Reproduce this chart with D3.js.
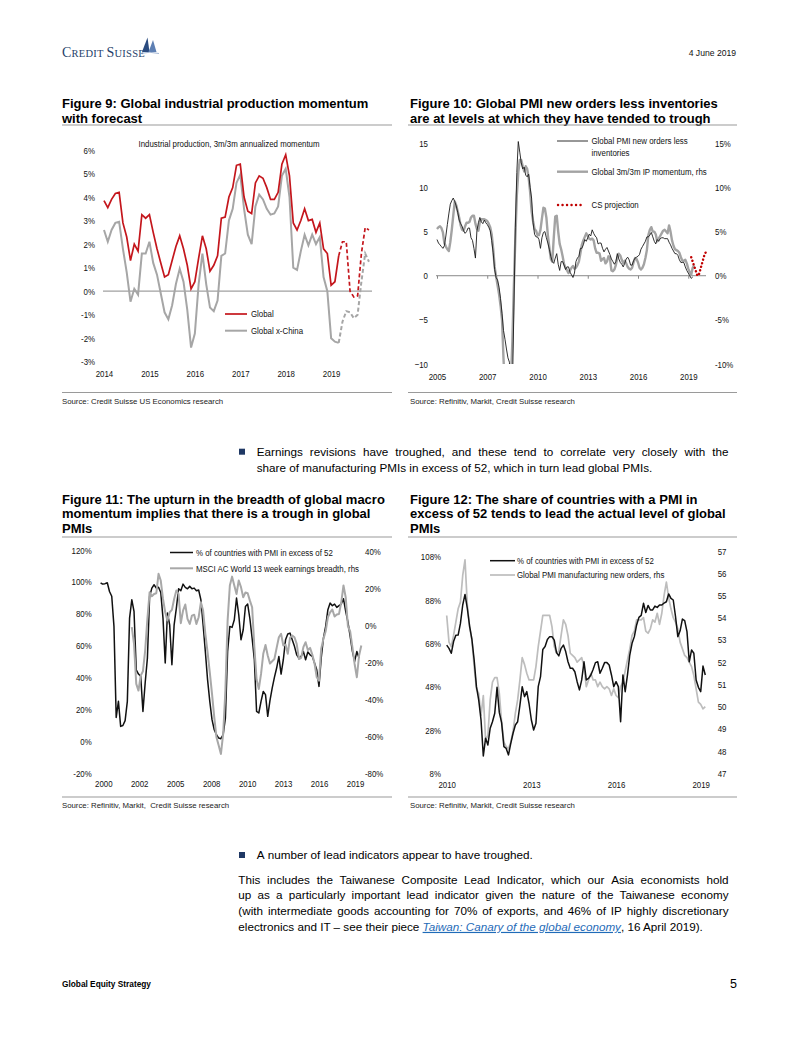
<!DOCTYPE html>
<html><head><meta charset="utf-8">
<script src="https://cdn.jsdelivr.net/npm/d3@7"></script>
<style>
html,body{margin:0;padding:0;background:#fff;}
svg{display:block;}
</style></head><body>
<svg id="page" width="802" height="1037"></svg>
<script>
// ================= DATA =================
// Figure 9: monthly from Jan 2014 (3m/3m annualized IP momentum, %)
const fig9Start = 2014;
const fig9GlobalActual = [3.85,3.55,3.9,4.15,4.2,2.9,2.3,1.3,2.0,1.7,3.25,3.1,3.25,2.5,1.8,1.2,0.6,0.7,1.3,1.9,2.35,1.8,1.1,0.1,0.4,1.4,2.35,1.8,0.85,1.1,1.5,3.1,3.15,4.0,4.4,5.35,5.4,4.0,3.4,3.3,4.6,4.9,4.8,4.4,3.9,3.9,4.2,5.4,5.8,4.9,2.9,2.6,3.0,3.5,3.0,3.05,2.5,2.9,1.8,1.6,0.25,0.4,1.5];
const fig9GlobalForecast = [1.5,2.1,2.1,0.0,-0.25,-0.2,1.6,2.7,2.6];          // from month 62
const fig9XChinaActual = [2.6,2.1,2.6,2.9,2.95,1.8,0.8,-0.45,0.1,-0.15,1.6,1.6,2.1,1.2,0.7,-0.1,-0.9,-1.2,-0.6,0.3,0.95,0.4,-0.8,-2.4,-1.8,0.3,1.6,0.3,-0.7,-0.85,-0.4,1.5,1.6,3.0,3.5,4.6,4.95,3.5,2.4,2.0,3.6,4.1,3.9,3.5,3.25,3.3,3.6,4.9,5.2,4.0,1.0,0.9,1.7,2.4,1.95,2.4,2.0,2.3,0.6,0.0,-2.0,-2.15,-2.2];
const fig9XChinaForecast = [-2.2,-1.3,-0.85,-0.9,-1.15,-1.0,0.4,1.6,1.25];   // from month 62
const fig9ForecastStartMonth = 62;
const fig9YTicks = [-3,-2,-1,0,1,2,3,4,5,6];
const fig9XTicks = [2014,2015,2016,2017,2018,2019];

// Figure 10: monthly from Jan 2005
const fig10Start = 2005;
const fig10Pmi = [4.1,3.7,3.5,3.3,3.1,3.4,4.5,5.8,7.0,8.1,
 8.5,8.8,8.4,7.9,7.2,6.3,5.9,5.6,5.1,4.8,
 5.0,5.4,5.4,4.3,4.0,3.1,2.0,5.1,6.0,6.6,
 6.1,5.9,6.3,6.0,5.8,5.5,5.1,4.0,2.6,0.7,
 -0.2,-0.5,-1.3,-2.6,-4.3,-6.2,-7.2,-8.3,-9.3,-9.8,
 -16,-13,-4,5.5,11.7,15.2,14.0,12.8,12.1,12.3,
 11.4,11.2,11.5,10.0,8.8,6.0,4.7,4.4,4.4,4.1,
 3.1,4.3,4.9,5.0,4.3,3.7,3.0,2.2,1.6,1.4,
 2.0,2.5,1.3,0.6,1.6,1.6,1.2,0.7,1.0,1.0,
 0.4,0.1,-0.2,0.3,1.6,2.0,2.2,3.1,3.1,3.5,
 4.1,3.9,4.3,4.7,4.5,5.2,4.8,4.5,4.3,3.6,
 3.7,3.7,3.1,2.7,3.0,3.2,2.8,2.4,1.9,1.6,
 1.3,1.6,2.5,1.9,1.5,1.3,1.0,1.4,1.9,2.1,
 1.8,1.2,1.2,1.7,2.0,2.1,2.2,2.4,3.0,3.3,
 3.6,3.9,4.4,4.4,4.6,4.9,4.4,3.9,3.6,4.1,
 3.9,4.2,4.3,4.3,4.2,4.2,4.2,3.8,3.5,3.1,
 2.8,2.5,2.5,2.3,1.8,1.5,1.5,1.5,1.0,0.6,
 0.3,0.0,-0.3,-0.15];
const fig10Ip = [5.3,5.5,5.6,5.4,4.9,3.7,3.3,3.0,2.8,3.8,
 5.2,6.8,8.4,8.0,7.3,6.6,5.7,5.2,5.1,5.6,
 6.0,6.0,6.1,6.6,6.8,6.8,5.9,5.3,5.1,6.1,
 6.4,6.4,6.4,6.3,6.2,5.9,5.5,4.7,3.1,1.0,
 -0.1,-1.1,-2.1,-3.4,-5.0,-9.4,-12.9,-16,-16,-15.3,
 -11.9,-7.4,-1.2,4.2,9.1,11.7,13.1,13.1,12.4,11.8,
 12.4,12.1,11.1,9.5,7.3,6.2,5.3,5.1,4.6,4.6,
 5.2,6.5,7.7,7.6,6.6,4.6,3.2,1.9,1.6,4.3,
 6.7,6.8,5.0,3.6,3.0,2.2,1.3,0.9,0.6,0.3,
 0.6,0.9,1.1,0.8,0.9,1.2,1.6,2.5,3.5,4.0,
 4.4,4.8,4.5,4.2,4.1,4.2,4.0,3.1,2.6,2.6,
 2.5,1.7,1.9,2.0,1.4,1.6,2.2,2.0,0.6,0.5,
 0.7,1.2,2.0,2.5,2.3,1.8,1.4,1.7,1.4,1.0,
 0.8,0.7,0.9,1.5,2.0,1.9,1.5,0.9,0.7,0.9,
 1.3,2.0,2.9,4.6,5.2,5.5,5.0,5.0,4.7,3.9,
 4.2,4.5,4.8,5.1,5.2,5.0,4.8,5.7,5.0,4.0,
 3.4,3.0,2.9,2.8,2.6,2.1,1.7,1.7,1.8,1.4,
 0.8,0.4,0.1,0.9,1.2];
const fig10ProjStartMonth = 172;
const fig10Projection = [2.1,1.6,1.1,0.6,0.1,0.0,0.6,1.2,1.8,2.4,2.7];
const fig10LeftTicks = [-10,-5,0,5,10,15];
const fig10XTicks = [2005, 2007.833, 2010.667, 2013.5, 2016.333, 2019.167];
const fig10XLabels = ["2005","2007","2010","2013","2016","2019"];

// Figure 11: every 2 months from Jan 2000
const fig11Start = 2000;
const fig11Breadth = [99.3,98.6,98.9,99.5,94.0,91.0,72.1,15,25.1,9.4,
 10.0,13.0,25.1,77.3,88.8,81.5,44.9,42.2,40.8,18.8,
 36.6,52.2,90.9,96.1,98.2,96.1,96.6,93.4,77.3,49.1,
 80.5,73.1,48.1,73.1,83.6,95.7,94.5,98.6,96.6,95.7,
 97.2,95.7,96.1,94.5,94.9,88.8,73.1,56.4,38.7,25.1,
 13.6,7.3,4.2,2.1,1.7,4.2,14.6,56.4,72.1,71.5,
 76.3,89.9,79.4,63.7,70.0,84.6,86.1,76.9,64.8,51.2,
 18.8,17.8,25.1,31.3,29.3,15.7,25.5,33.4,40.1,46.0,
 53.3,42.2,51.2,63.7,67.3,67.9,63.7,59.6,54.3,52.2,
 53.3,56.4,51.2,56.0,54.3,53.3,49.1,44.9,34.5,52.2,
 64.8,72.1,82.6,86.7,85.1,86.1,84.0,85.1,86.1,89.4,
 81.5,74.8,65.8,56.4,50.2,56.4,52.2];
const fig11EarningsStartStep = 14;
const fig11Earnings = [-0.9,-9.9,-31.6,-35.2,-27.1,-24.7,-13.5,3.6,18.1,15.9,
 17.1,17.5,28,24.4,14.4,7.2,2.7,7.2,8.5,14.4,
 19.0,17.1,1.3,8.1,11.4,3.6,0.9,5.4,5.9,0.9,
 4.5,12.6,8.1,-4.5,-14.4,-25.3,-37.0,-49.6,-60.5,-65.0,
 -69.5,-58.7,-35.2,2.7,21.7,26.5,21.7,17.1,24.4,20.8,
 15.3,17.9,17.5,13.5,9.9,-11.7,-29.2,-34.3,-26.2,-15.3,
 -10.5,-16.2,-20.6,-19.3,-18.1,-12.1,-6.3,-4.5,-10.8,-10.3,
 -15.3,-6.7,-5.4,-6.3,-9.9,-18.1,-17.5,-11.7,-9.0,-13.2,
 -12.1,-15.7,-20.4,-28.0,-29.8,-12.6,-7.2,-3.1,4.5,7.2,
 8.7,4.9,6.0,6.3,12.6,21.7,15.3,-0.5,-3.1,-11.7,
 -20.8,-28.0,-16.2,-10.8];
const fig11LeftTicks = [-20,0,20,40,60,80,100,120];
const fig11RightTicks = [-80,-60,-40,-20,0,20,40];
const fig11XTicks = [2000.2,2002.89,2005.58,2008.27,2010.96,2013.65,2016.34,2019.03];
const fig11XLabels = ["2000","2002","2005","2008","2010","2013","2016","2019"];

// Figure 12: monthly from Jan 2010
const fig12Start = 2010;
const fig12Breadth = [67.2,65.7,63.4,68.8,71.7,71.8,77.2,85.7,90.6,84.2,
 76.0,70.0,60.3,48.0,41.8,32.6,16.0,24.2,21.1,28.8,
 31.8,35.7,47.7,36.0,31.4,20.3,19.5,16.5,21.8,26.5,
 30.3,31.8,39.5,48.0,43.4,45.7,40.0,32.6,28.0,31.1,
 48.0,52.6,65.2,66.5,69.8,71.1,71.1,69.5,63.7,62.2,
 65.7,67.2,64.2,59.5,56.5,56.5,54.9,50.3,46.5,51.1,
 59.5,51.1,51.8,53.4,56.0,59.1,59.5,54.2,56.5,59.1,
 59.1,58.0,53.4,48.0,50.3,48.0,31.8,53.4,45.7,53.4,
 62.6,68.0,71.1,76.5,80.0,80.9,86.5,82.2,85.5,83.4,
 83.4,85.2,84.6,85.7,85.7,86.6,87.2,90.8,88.8,88.0,
 80.3,71.1,73.8,79.2,78.5,73.4,59.5,64.9,63.4,51.1,
 47.7,45.7,57.5,53.4];
const fig12NewOrders = [54.1,52.9,52.7,53.2,53.8,54.4,54.7,55.9,56.6,54.6,
 53.6,53.0,51.8,50.8,50.6,49.6,50.5,48.5,48.7,50.3,
 51.1,51.3,51.3,50.6,49.3,48.4,48.2,48.1,48.4,48.9,
 49.7,50.3,51.2,52.2,51.9,51.5,51.2,51.2,51.2,51.8,
 52.7,53.4,54.1,54.1,54.1,54.1,53.6,52.7,52.4,52.5,
 53.2,53.9,53.7,53.2,52.4,52.3,52.2,52.0,52.1,52.2,
 51.8,50.9,51.2,51.5,51.2,51.2,50.9,51.1,50.9,50.8,
 50.9,50.8,50.5,50.8,50.5,50.4,50.9,51.1,51.6,52.1,
 52.6,53.2,53.4,53.9,53.9,53.9,54.0,53.4,53.3,53.5,
 53.9,53.8,54.2,53.7,54.2,55.0,55.6,54.9,54.4,54.0,
 53.8,53.5,52.9,52.6,52.3,52.2,52.0,51.8,51.4,50.8,
 50.2,50.1,49.9,50.0];
const fig12LeftTicks = [8,28,48,68,88,108];
const fig12RightTicks = [47,48,49,50,51,52,53,54,55,56,57];
const fig12XTicks = [2010, 2013.083, 2016.167, 2019.25];
const fig12XLabels = ["2010","2013","2016","2019"];

// ================= RENDER =================
const svg = d3.select("#page");
svg.append("rect").attr("width",802).attr("height",1037).attr("fill","#fff");
const NARROW = '"Liberation Sans Narrow","Arial Narrow","Liberation Sans",Arial,sans-serif';
const SANS = '"Liberation Sans",Arial,Helvetica,sans-serif';
const RED = "#c4161c";
const CONDENSE = 0.82;

function series(start, stepMonths, offsetSteps, vals){
  return vals.map((v,i)=>({t: start + (offsetSteps+i)*stepMonths/12, v}));
}
function styleAxis(g, size){
  g.select(".domain").remove();
  g.selectAll("text").classed("narrow",true).style("font-family",NARROW).style("font-size",(size||9.6)+"px").attr("fill","#111");
  g.selectAll(".tick line").attr("stroke","#888");
}
function title(x, y0, lines){
  const t = svg.append("text").style("font-family",SANS).style("font-weight","bold").style("font-size","13px").attr("fill","#000");
  lines.forEach((l,i)=> t.append("tspan").attr("x",x).attr("y",y0+i*14.3).text(l));
}
function rule(x0,x1,y){ svg.append("line").attr("x1",x0).attr("x2",x1).attr("y1",y).attr("y2",y).attr("stroke","#9a9a9a").attr("stroke-width",1.1); }
function source(x,y,txt){ svg.append("text").attr("x",x).attr("y",y).attr("xml:space","preserve").style("white-space","pre").style("font-family",SANS).style("font-size","7.8px").attr("fill","#222").text(txt); }
function legendLine(x0,x1,y,color,width,dash){
  const l = svg.append("line").attr("x1",x0).attr("x2",x1).attr("y1",y).attr("y2",y).attr("stroke",color).attr("stroke-width",width);
  if(dash){ l.attr("stroke-dasharray",dash).attr("stroke-linecap","round"); }
}
function legendText(x,y,txt,size){ svg.append("text").classed("narrow",true).attr("x",x).attr("y",y).attr("dy","0.34em").style("font-family",NARROW).style("font-size",(size||9.6)+"px").attr("fill","#111").text(txt); }

// ---------- header ----------
const logo = svg.append("text").attr("x",62).attr("y",57).style("font-family",'"Liberation Serif","Times New Roman",serif').attr("fill","#263f6a").style("letter-spacing","0.25px");
logo.append("tspan").style("font-size","14px").text("C");
logo.append("tspan").style("font-size","10.5px").text("REDIT ");
logo.append("tspan").style("font-size","14px").text("S");
logo.append("tspan").style("font-size","10.5px").text("UISSE");
svg.append("path").attr("d","M142,52 L147.5,37.5 L149.5,52 Z").attr("fill","#2b4c80");
svg.append("path").attr("d","M148.5,52 L153,40 L156.5,52 Z").attr("fill","#5d7fb3");
svg.append("path").attr("d","M140,53.5 Q150,51 159,53.5").attr("fill","none").attr("stroke","#8aa2c8").attr("stroke-width",0.8);
svg.append("text").attr("x",736).attr("y",56).attr("text-anchor","end").style("font-family",SANS).style("font-size","8.6px").attr("fill","#111").text("4 June 2019");

// ---------- Figure 9 ----------
title(62,108.3,["Figure 9: Global industrial production momentum","with forecast"]);
rule(62,392,125);
rule(62,392,392.5);
source(62,403.5,"Source: Credit Suisse US Economics research");
{
  const x = d3.scaleLinear().domain([2014, 2019.9]).range([104, 372]);
  const y = d3.scaleLinear().domain([-3, 6]).range([361.7, 150]);
  const gy = svg.append("g").attr("transform","translate(98,0)").call(d3.axisLeft(y).tickValues(fig9YTicks).tickSize(0).tickPadding(3).tickFormat(d=>d+"%"));
  styleAxis(gy);
  const gx = svg.append("g").attr("transform","translate(0,367)").call(d3.axisBottom(x).tickValues(fig9XTicks).tickSize(0).tickPadding(3).tickFormat(d3.format("d")));
  styleAxis(gx);
  svg.append("line").attr("x1",103).attr("x2",372).attr("y1",y(0)).attr("y2",y(0)).attr("stroke","#a0a0a0").attr("stroke-width",1.2);
  svg.append("text").classed("narrow",true).attr("x",229).attr("y",143.5).attr("dy","0.34em").attr("text-anchor","middle").style("font-family",NARROW).style("font-size","9.6px").attr("fill","#111").text("Industrial production, 3m/3m annualized momentum");
  const line = d3.line().x(d=>x(d.t)).y(d=>y(d.v));
  const gray = "#a6a6a6";
  svg.append("path").datum(series(fig9Start,1,0,fig9XChinaActual)).attr("d",line).attr("fill","none").attr("stroke",gray).attr("stroke-width",2);
  svg.append("path").datum(series(fig9Start,1,fig9ForecastStartMonth,fig9XChinaForecast)).attr("d",line).attr("fill","none").attr("stroke",gray).attr("stroke-width",2).attr("stroke-dasharray","4,2.5");
  svg.append("path").datum(series(fig9Start,1,0,fig9GlobalActual)).attr("d",line).attr("fill","none").attr("stroke",RED).attr("stroke-width",1.7);
  svg.append("path").datum(series(fig9Start,1,fig9ForecastStartMonth,fig9GlobalForecast)).attr("d",line).attr("fill","none").attr("stroke",RED).attr("stroke-width",1.7).attr("stroke-dasharray","4,2.5");
  legendLine(225,247,314,RED,1.7);
  legendText(251,314,"Global");
  legendLine(225,247,330.7,gray,2);
  legendText(251,330.7,"Global x-China");
}

// ---------- Figure 10 ----------
title(410,108.3,["Figure 10: Global PMI new orders less inventories","are at levels at which they have tended to trough"]);
rule(408,737,125);
rule(408,737,392.5);
source(410,403.5,"Source: Refinitiv, Markit, Credit Suisse research");
{
  const x = d3.scaleLinear().domain([2005, 2005+182/12]).range([437, 706]);
  const y = d3.scaleLinear().domain([-10, 15]).range([364, 143.3]);
  const gl = svg.append("g").attr("transform","translate(431,0)").call(d3.axisLeft(y).tickValues(fig10LeftTicks).tickSize(0).tickPadding(3).tickFormat(d3.format("d")));
  styleAxis(gl);
  const gr = svg.append("g").attr("transform","translate(712,0)").call(d3.axisRight(y).tickValues(fig10LeftTicks).tickSize(0).tickPadding(3).tickFormat(d=>d+"%"));
  styleAxis(gr);
  const gt = svg.append("g").attr("transform",`translate(0,${y(0)})`).call(d3.axisBottom(x).tickValues(fig10XTicks).tickSize(3).tickFormat(""));
  gt.select(".domain").remove(); gt.selectAll(".tick line").attr("stroke","#888");
  const gx = svg.append("g").attr("transform","translate(0,370)").call(d3.axisBottom(x).tickValues(fig10XTicks).tickSize(0).tickPadding(3).tickFormat((d,i)=>fig10XLabels[i]));
  styleAxis(gx);
  svg.append("line").attr("x1",436).attr("x2",706).attr("y1",y(0)).attr("y2",y(0)).attr("stroke","#888").attr("stroke-width",1);
  svg.append("clipPath").attr("id","clip10").append("rect").attr("x",430).attr("y",138).attr("width",285).attr("height",226);
  const g = svg.append("g").attr("clip-path","url(#clip10)");
  const line = d3.line().x(d=>x(d.t)).y(d=>y(d.v));
  g.append("path").datum(series(fig10Start,1,0,fig10Ip)).attr("d",line).attr("fill","none").attr("stroke","#a3a3a3").attr("stroke-width",2.4).attr("stroke-linejoin","round");
  g.append("path").datum(series(fig10Start,1,0,fig10Pmi)).attr("d",line).attr("fill","none").attr("stroke","#1a1a1a").attr("stroke-width",0.9);
  g.append("path").datum(series(fig10Start,1,fig10ProjStartMonth,fig10Projection)).attr("d",line).attr("fill","none").attr("stroke","#c00000").attr("stroke-width",2.4).attr("stroke-dasharray","0.1,3.6").attr("stroke-linecap","round");
  legendLine(557,588,141,"#1a1a1a",0.9);
  legendText(591.5,141,"Global PMI new orders less");
  legendText(591.5,152.3,"inventories");
  legendLine(557,588,171.7,"#a3a3a3",2.4);
  legendText(591.5,171.7,"Global 3m/3m IP momentum, rhs");
  legendLine(558,585,205,"#c00000",2.4,"0.1,4.4");
  legendText(591.5,205,"CS projection");
}

// ---------- body text helpers ----------
const BODY = 11.7;
function measure(txt, style){
  const t = svg.append("text").style("font-family",SANS).style("font-size",BODY+"px");
  if(style==="italic") t.style("font-style","italic");
  t.text(txt);
  const w = t.node().getComputedTextLength(); t.remove(); return w;
}
function bodyLine(txt, x0, x1, y, justify){
  const words = txt.split(" ");
  const widths = words.map(w=>measure(w));
  const total = d3.sum(widths);
  const gap = justify ? (x1-x0-total)/(words.length-1) : measure("a b")-measure("ab");
  const t = svg.append("text").attr("y",y).style("font-family",SANS).style("font-size",BODY+"px").attr("fill","#000");
  let x = x0;
  words.forEach((w,i)=>{ t.append("tspan").attr("x",x).text(w); x += widths[i]+gap; });
}
function bullet(x,y){ svg.append("rect").attr("x",x).attr("y",y-3).attr("width",6).attr("height",6).attr("fill","#1f3864"); }

bullet(239,451.7);
bodyLine("Earnings revisions have troughed, and these tend to correlate very closely with the",256.7,728.5,456,true);
bodyLine("share of manufacturing PMIs in excess of 52, which in turn lead global PMIs.",256.7,728.5,472,false);

// ---------- Figure 11 ----------
title(62,504,["Figure 11: The upturn in the breadth of global macro","momentum implies that there is a trough in global","PMIs"]);
rule(62,392,537);
rule(62,392,797);
source(62,808,"Source: Refinitiv, Markit,  Credit Suisse research");
{
  const x = d3.scaleLinear().domain([2000, 2019.5]).range([100.6, 100.6+19.5*13.37]);
  const yl = d3.scaleLinear().domain([-20, 120]).range([773.3, 550]);
  const yr = d3.scaleLinear().domain([-80, 40]).range([773.3, 551.7]);
  const gl = svg.append("g").attr("transform","translate(94.7,0)").call(d3.axisLeft(yl).tickValues(fig11LeftTicks).tickSize(0).tickPadding(3).tickFormat(d=>d+"%"));
  styleAxis(gl);
  const gr = svg.append("g").attr("transform","translate(362,0)").call(d3.axisRight(yr).tickValues(fig11RightTicks).tickSize(0).tickPadding(3).tickFormat(d=>d+"%"));
  styleAxis(gr);
  const gx = svg.append("g").attr("transform","translate(0,777)").call(d3.axisBottom(x).tickValues(fig11XTicks).tickSize(0).tickPadding(3).tickFormat((d,i)=>fig11XLabels[i]));
  styleAxis(gx);
  const ll = d3.line().x(d=>x(d.t)).y(d=>yl(d.v));
  const lr = d3.line().x(d=>x(d.t)).y(d=>yr(d.v));
  svg.append("path").datum(series(fig11Start,2,0,fig11Breadth)).attr("d",ll).attr("fill","none").attr("stroke","#111").attr("stroke-width",1.5).attr("stroke-linejoin","round");
  svg.append("path").datum(series(fig11Start,2,fig11EarningsStartStep,fig11Earnings)).attr("d",lr).attr("fill","none").attr("stroke","#a8a8a8").attr("stroke-width",2).attr("stroke-linejoin","round");
  legendLine(170,193,552.5,"#111",1.5);
  legendText(196,552.5,"% of countries with PMI in excess of 52");
  legendLine(170,193,568.3,"#a8a8a8",2);
  legendText(196,568.3,"MSCI AC World 13 week earnings breadth, rhs");
}

// ---------- Figure 12 ----------
title(410,504,["Figure 12: The share of countries with a PMI in","excess of 52 tends to lead the actual level of global","PMIs"]);
rule(408,737,537);
rule(408,737,797);
source(410,808,"Source: Refinitiv, Markit, Credit Suisse research");
{
  const x = d3.scaleLinear().domain([2010, 2019.5]).range([446.7, 446.7+9.5*27.46]);
  const yl = d3.scaleLinear().domain([8, 108]).range([773.3, 556.7]);
  const yr = d3.scaleLinear().domain([47, 57]).range([773.3, 551]);
  const gl = svg.append("g").attr("transform","translate(444,0)").call(d3.axisLeft(yl).tickValues(fig12LeftTicks).tickSize(0).tickPadding(3).tickFormat(d=>d+"%"));
  styleAxis(gl);
  const gr = svg.append("g").attr("transform","translate(714.7,0)").call(d3.axisRight(yr).tickValues(fig12RightTicks).tickSize(0).tickPadding(3).tickFormat(d3.format("d")));
  styleAxis(gr);
  const gx = svg.append("g").attr("transform","translate(0,778.5)").call(d3.axisBottom(x).tickValues(fig12XTicks).tickSize(0).tickPadding(3).tickFormat((d,i)=>fig12XLabels[i]));
  styleAxis(gx);
  const ll = d3.line().x(d=>x(d.t)).y(d=>yl(d.v));
  const lr = d3.line().x(d=>x(d.t)).y(d=>yr(d.v));
  svg.append("path").datum(series(fig12Start,1,0,fig12NewOrders)).attr("d",lr).attr("fill","none").attr("stroke","#bdbdbd").attr("stroke-width",1.7).attr("stroke-linejoin","round");
  svg.append("path").datum(series(fig12Start,1,0,fig12Breadth)).attr("d",ll).attr("fill","none").attr("stroke","#111").attr("stroke-width",1.5).attr("stroke-linejoin","round");
  legendLine(490,515,560.7,"#111",1.5);
  legendText(517,560.7,"% of countries with PMI in excess of 52");
  legendLine(490,515,575,"#bdbdbd",1.7);
  legendText(517,575,"Global PMI manufacturing new orders, rhs");
}

// ---------- lower text ----------
bullet(239,855);
bodyLine("A number of lead indicators appear to have troughed.",256.7,728.5,859.2,false);
bodyLine("This includes the Taiwanese Composite Lead Indicator, which our Asia economists hold",238.3,728.5,883.5,true);
bodyLine("up as a particularly important lead indicator given the nature of the Taiwanese economy",238.3,728.5,899.3,true);
bodyLine("(with intermediate goods accounting for 70% of exports, and 46% of IP highly discretionary",238.3,728.5,915.1,true);
{
  const t = svg.append("text").attr("x",238.3).attr("y",930.9).attr("xml:space","preserve").style("white-space","pre").style("font-family",SANS).style("font-size",BODY+"px").attr("fill","#000");
  t.append("tspan").text("electronics and IT \u2013 see their piece ");
  t.append("tspan").style("font-style","italic").style("text-decoration","underline").attr("fill","#1f6bb8").text("Taiwan: Canary of the global economy");
  t.append("tspan").text(", 16 April 2019).");
}

// ---------- footer ----------
svg.append("text").attr("x",62).attr("y",987).style("font-family",SANS).style("font-weight","bold").style("font-size","8.3px").attr("fill","#000").text("Global Equity Strategy");
svg.append("text").attr("x",737).attr("y",987.5).attr("text-anchor","end").style("font-family",SANS).style("font-size","12.5px").attr("fill","#000").text("5");

// ---------- condense chart text (Arial Narrow look) ----------
svg.selectAll("text.narrow").each(function(){
  const w = this.getComputedTextLength();
  d3.select(this).attr("textLength", (w*CONDENSE).toFixed(2)).attr("lengthAdjust","spacingAndGlyphs");
});
</script></body></html>
